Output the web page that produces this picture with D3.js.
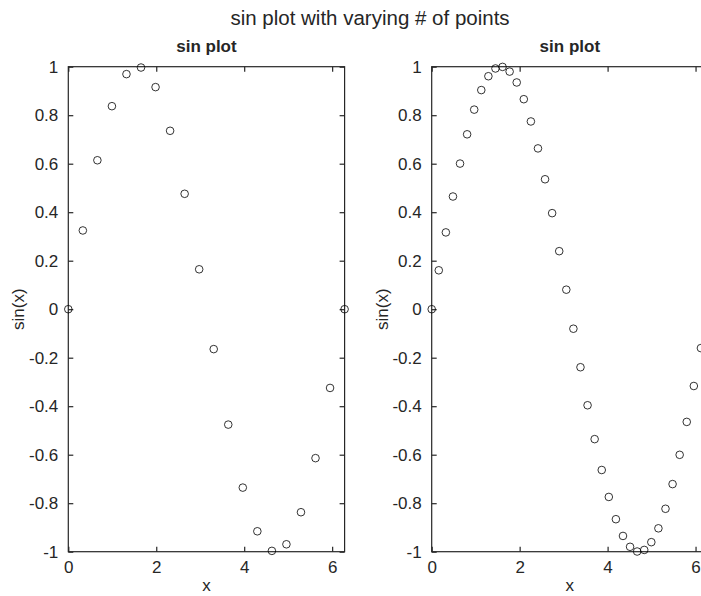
<!DOCTYPE html>
<html><head><meta charset="utf-8">
<script src="https://cdn.jsdelivr.net/npm/d3@7"></script>
<style>body{margin:0;background:#fff}svg{display:block}text{font-family:"Liberation Sans",Arial,sans-serif;fill:#262626}</style>
</head><body>
<script>
// Left panel: 20 points
const xCoarse = [0,0.3307,0.6614,0.9921,1.3228,1.6535,1.9842,2.3149,2.6456,2.9762,3.3069,3.6376,3.9683,4.2990,4.6297,4.9604,5.2911,5.6218,5.9525,6.2832];
const yCoarse = [0,0.3247,0.6142,0.8372,0.9694,0.9966,0.9158,0.7357,0.4759,0.1646,-0.1646,-0.4759,-0.7357,-0.9158,-0.9966,-0.9694,-0.8372,-0.6142,-0.3247,0];
// Right panel: 40 points
const xFine = [0,0.1611,0.3222,0.4833,0.6444,0.8055,0.9666,1.1277,1.2889,1.4500,1.6111,1.7722,1.9333,2.0944,2.2555,2.4166,2.5777,2.7388,2.8999,3.0610,
  3.2221,3.3833,3.5444,3.7055,3.8666,4.0277,4.1888,4.3499,4.5110,4.6721,4.8332,4.9943,5.1554,5.3165,5.4777,5.6388,5.7999,5.9610,6.1221,6.2832];
const yFine = [0,0.1604,0.3167,0.4647,0.6005,0.7212,0.8230,0.9036,0.9607,0.9927,0.9992,0.9798,0.9350,0.8660,0.7742,0.6631,0.5358,0.3961,0.2393,0.0805,
  -0.0805,-0.2393,-0.3961,-0.5358,-0.6631,-0.7742,-0.8660,-0.9350,-0.9798,-0.9992,-0.9927,-0.9607,-0.9036,-0.8230,-0.7212,-0.6005,-0.4647,-0.3167,-0.1604,0];
const xTicks = [0,2,4,6];
const yTicks = [-1,-0.8,-0.6,-0.4,-0.2,0,0.2,0.4,0.6,0.8,1];
const yTickLabels = ["-1","-0.8","-0.6","-0.4","-0.2","0","0.2","0.4","0.6","0.8","1"];
const mainTitle = "sin plot with varying # of points";
const panelTitle = "sin plot";
const xLabel = "x", yLabel = "sin(x)";

const W = 701, H = 596;
const svg = d3.select("body").append("svg").attr("width", W).attr("height", H);
const axisColor = "#262626";
const FONT = '"Liberation Sans",Arial,sans-serif';

svg.append("text").attr("x", 370).attr("y", 25).attr("text-anchor","middle")
  .style("font-size","20.5px").text(mainTitle);

function panel(left, xs, ys) {
  const top = 66.7, bottom = 551.7, width = 276.3;
  const x = d3.scaleLinear().domain([0, 2*Math.PI]).range([left, left + width]);
  const y = d3.scaleLinear().domain([-1, 1]).range([bottom, top]);
  const g = svg.append("g");
  const tl = 5;
  g.append("rect").attr("x", left).attr("y", top).attr("width", width).attr("height", bottom - top)
    .attr("fill","none").attr("stroke", axisColor).attr("stroke-width", 1.2);
  const ax = d3.axisBottom(x).tickValues(xTicks).tickSize(-tl).tickPadding(9).tickFormat(d3.format("d"));
  const gx = g.append("g").attr("transform", `translate(0,${bottom})`).call(ax);
  const axT = d3.axisTop(x).tickValues(xTicks).tickSize(-tl).tickFormat("");
  const gxt = g.append("g").attr("transform", `translate(0,${top})`).call(axT);
  const ay = d3.axisLeft(y).tickValues(yTicks).tickSize(-tl).tickPadding(10)
    .tickFormat((d,i) => yTickLabels[i]);
  const gy = g.append("g").attr("transform", `translate(${left},0)`).call(ay);
  const ayR = d3.axisRight(y).tickValues(yTicks).tickSize(-tl).tickFormat("");
  const gyr = g.append("g").attr("transform", `translate(${left+width},0)`).call(ayR);
  [gx,gxt,gy,gyr].forEach(a => {
    a.select(".domain").remove();
    a.selectAll(".tick line").attr("stroke", axisColor).attr("stroke-width", 1.2);
    a.selectAll(".tick text").style("font-size","17px").attr("fill", axisColor).style("font-family", FONT);
  });
  g.append("g").selectAll("circle").data(xs.map((v,i)=>[v, ys[i]])).join("circle")
    .attr("cx", d => x(d[0])).attr("cy", d => y(d[1])).attr("r", 3.8)
    .attr("fill","none").attr("stroke","#000").attr("stroke-width", 0.8);
  const cx = left + width/2;
  g.append("text").attr("x", cx).attr("y", 52).attr("text-anchor","middle")
    .style("font-size","17px").style("font-weight","bold").text(panelTitle);
  g.append("text").attr("x", cx).attr("y", 591).attr("text-anchor","middle")
    .style("font-size","17px").text(xLabel);
  g.append("text").attr("transform", `translate(${left-44},${(top+bottom)/2}) rotate(-90)`)
    .attr("text-anchor","middle").style("font-size","17px").text(yLabel);
}
panel(68.3, xCoarse, yCoarse);
panel(431.7, xFine, yFine);
</script>
</body></html>
